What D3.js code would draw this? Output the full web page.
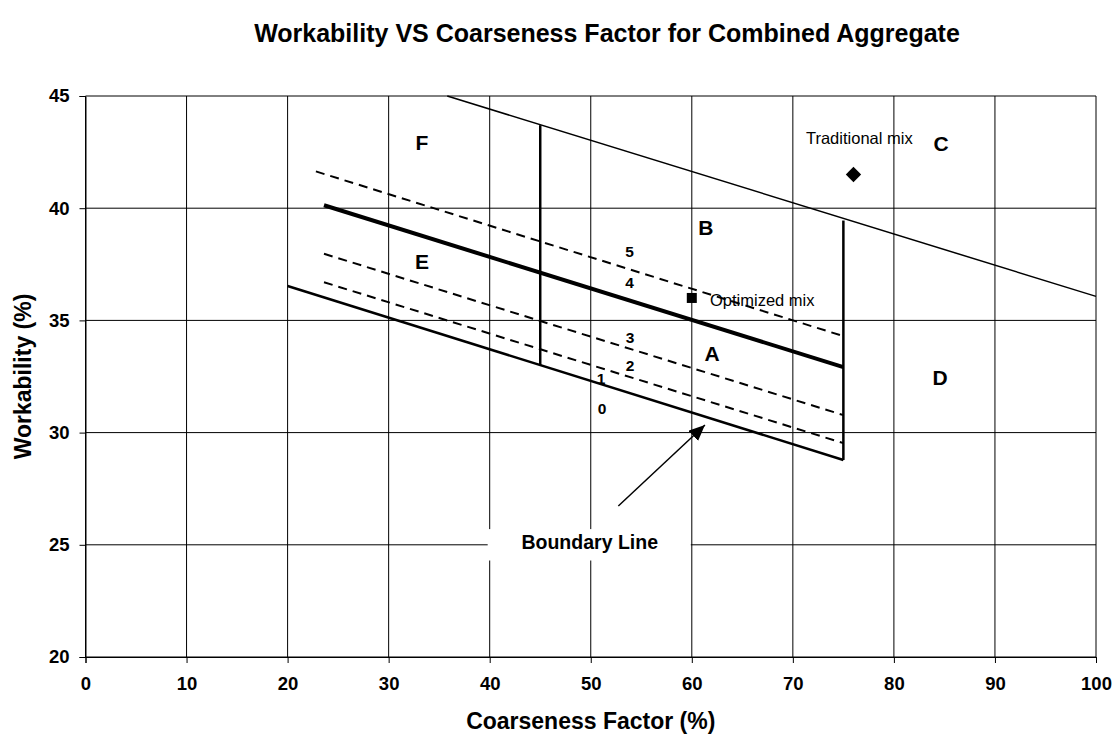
<!DOCTYPE html>
<html>
<head>
<meta charset="utf-8">
<script src="https://cdn.jsdelivr.net/npm/d3@7/dist/d3.min.js"></script>
<style>
  html, body { margin: 0; padding: 0; background: #fff; }
  svg { display: block; font-family: "Liberation Sans", Arial, Helvetica, sans-serif; }
</style>
</head>
<body>
<svg id="chart" width="1115" height="736"></svg>
<script>
// ---------- data ----------
const xTicks = [0, 10, 20, 30, 40, 50, 60, 70, 80, 90, 100];
const yTicks = [20, 25, 30, 35, 40, 45];

// upper boundary line (thin)
const upperLine = [[35.8, 45.0], [100, 36.07]];
// line 0 – boundary line (solid)
const line0 = [[20, 36.53], [75, 28.78]];
// line 2 (dashed)
const line2 = [[23.6, 36.70], [75, 29.53]];
// line 3 (dashed)
const line3 = [[23.6, 37.97], [75, 30.78]];
// line 4 (thick solid)
const line4 = [[23.6, 40.13], [75, 32.92]];
// line 5 (dashed)
const line5 = [[22.8, 41.64], [75, 34.30]];
// vertical zone limits
const vert45 = [[45, 33.0], [45, 43.7]];
const vert75 = [[75, 28.78], [75, 39.45]];

const traditionalMix = [76, 41.5];
const optimizedMix = [60, 36.0];

const regionLetters = ["A", "B", "C", "D", "E", "F"];
const regionPos = [[62.0, 33.21], [61.4, 38.81], [84.66, 42.57], [84.56, 32.1], [33.3, 37.28], [33.3, 42.6]];
const lineNumbers = ["0", "1", "2", "3", "4", "5"];
const lineNumberPos = [[51.11, 30.83], [51.01, 32.17], [53.88, 32.75], [53.88, 33.99], [53.83, 36.43], [53.83, 37.81]];

const arrowFrom = [52.73, 26.73];
const arrowTo = [61.3, 30.34];

// ---------- chart ----------
const svg = d3.select("#chart");
const x = d3.scaleLinear().domain([0, 100]).range([85.5, 1096]);
const y = d3.scaleLinear().domain([20, 45]).range([657, 96]);

// title
svg.append("text")
  .attr("x", 607).attr("y", 42)
  .attr("text-anchor", "middle")
  .attr("font-weight", "bold").attr("font-size", 25)
  .text("Workability VS Coarseness Factor for Combined Aggregate");

// gridlines
const grid = svg.append("g");
grid.selectAll("line.v").data(xTicks).join("line")
  .attr("x1", d => x(d)).attr("x2", d => x(d))
  .attr("y1", y(20)).attr("y2", y(45))
  .attr("stroke", "#000").attr("stroke-width", 1);
grid.selectAll("line.h").data(yTicks).join("line")
  .attr("y1", d => y(d)).attr("y2", d => y(d))
  .attr("x1", x(0)).attr("x2", x(100))
  .attr("stroke", "#000").attr("stroke-width", 1);

// axes
const xAxis = svg.append("g").attr("transform", `translate(0,${y(20)})`)
  .call(d3.axisBottom(x).tickValues(xTicks).tickSize(6).tickPadding(14).tickFormat(d3.format("d")));
const yAxis = svg.append("g").attr("transform", `translate(${x(0)},0)`)
  .call(d3.axisLeft(y).tickValues(yTicks).tickSize(6).tickPadding(10).tickFormat(d3.format("d")));
[xAxis, yAxis].forEach(a => {
  a.select(".domain").attr("stroke", "#000");
  a.selectAll(".tick line").attr("stroke", "#000");
  a.selectAll(".tick text").attr("font-size", 18.5).attr("font-weight", "bold")
    .attr("fill", "#000").attr("font-family", "Liberation Sans, Arial, sans-serif");
});

// axis titles
svg.append("text")
  .attr("x", x(50)).attr("y", 729)
  .attr("text-anchor", "middle")
  .attr("font-weight", "bold").attr("font-size", 23)
  .text("Coarseness Factor (%)");
svg.append("text")
  .attr("transform", `translate(31,${(y(20) + y(45)) / 2}) rotate(-90)`)
  .attr("text-anchor", "middle")
  .attr("font-weight", "bold").attr("font-size", 23)
  .text("Workability (%)");

// lines
const lineGen = d3.line().x(d => x(d[0])).y(d => y(d[1]));
const plot = svg.append("g");
function drawLine(data, width, dash) {
  plot.append("path").datum(data)
    .attr("d", lineGen)
    .attr("fill", "none").attr("stroke", "#000")
    .attr("stroke-width", width)
    .attr("stroke-dasharray", dash || null);
}
drawLine(upperLine, 1.5);
drawLine(line0, 2.5);
drawLine(line2, 2, "9,6");
drawLine(line3, 2, "9,6");
drawLine(line5, 2, "9,6");
drawLine(line4, 4);
drawLine(vert45, 2.5);
drawLine(vert75, 2.5);

// markers
plot.append("path")
  .attr("transform", `translate(${x(traditionalMix[0])},${y(traditionalMix[1])})`)
  .attr("d", d3.symbol().type(d3.symbolDiamond2).size(150)())
  .attr("fill", "#000");
plot.append("rect")
  .attr("x", x(optimizedMix[0]) - 5).attr("y", y(optimizedMix[1]) - 5)
  .attr("width", 10).attr("height", 10).attr("fill", "#000");

// annotation labels
plot.append("text").attr("x", x(71.3)).attr("y", y(42.86))
  .attr("font-size", 16.5).text("Traditional mix");
plot.append("text").attr("x", x(61.8)).attr("y", y(35.64))
  .attr("font-size", 16.5).text("Optimized mix");

plot.selectAll("text.region").data(regionLetters).join("text")
  .attr("class", "region")
  .attr("x", (d, i) => x(regionPos[i][0])).attr("y", (d, i) => y(regionPos[i][1]))
  .attr("text-anchor", "middle").attr("font-weight", "bold").attr("font-size", 21)
  .text(d => d);

plot.selectAll("text.num").data(lineNumbers).join("text")
  .attr("class", "num")
  .attr("x", (d, i) => x(lineNumberPos[i][0])).attr("y", (d, i) => y(lineNumberPos[i][1]))
  .attr("text-anchor", "middle").attr("font-weight", "bold").attr("font-size", 15.5)
  .text(d => d);

// Boundary Line callout
svg.append("defs").append("marker")
  .attr("id", "arrow").attr("markerUnits", "userSpaceOnUse")
  .attr("markerWidth", 18).attr("markerHeight", 14)
  .attr("refX", 16).attr("refY", 7).attr("orient", "auto")
  .append("path").attr("d", "M0,0 L16,7 L0,14 Z").attr("fill", "#000");

plot.append("rect")
  .attr("x", x(39.8)).attr("y", y(25.7))
  .attr("width", x(59.9) - x(39.8)).attr("height", y(24.3) - y(25.7))
  .attr("fill", "#fff");
plot.append("text").attr("x", x(49.9)).attr("y", y(24.81))
  .attr("text-anchor", "middle").attr("font-weight", "bold").attr("font-size", 19.5)
  .text("Boundary Line");
plot.append("line")
  .attr("x1", x(arrowFrom[0])).attr("y1", y(arrowFrom[1]))
  .attr("x2", x(arrowTo[0])).attr("y2", y(arrowTo[1]))
  .attr("stroke", "#000").attr("stroke-width", 1.5)
  .attr("marker-end", "url(#arrow)");
</script>
</body>
</html>
